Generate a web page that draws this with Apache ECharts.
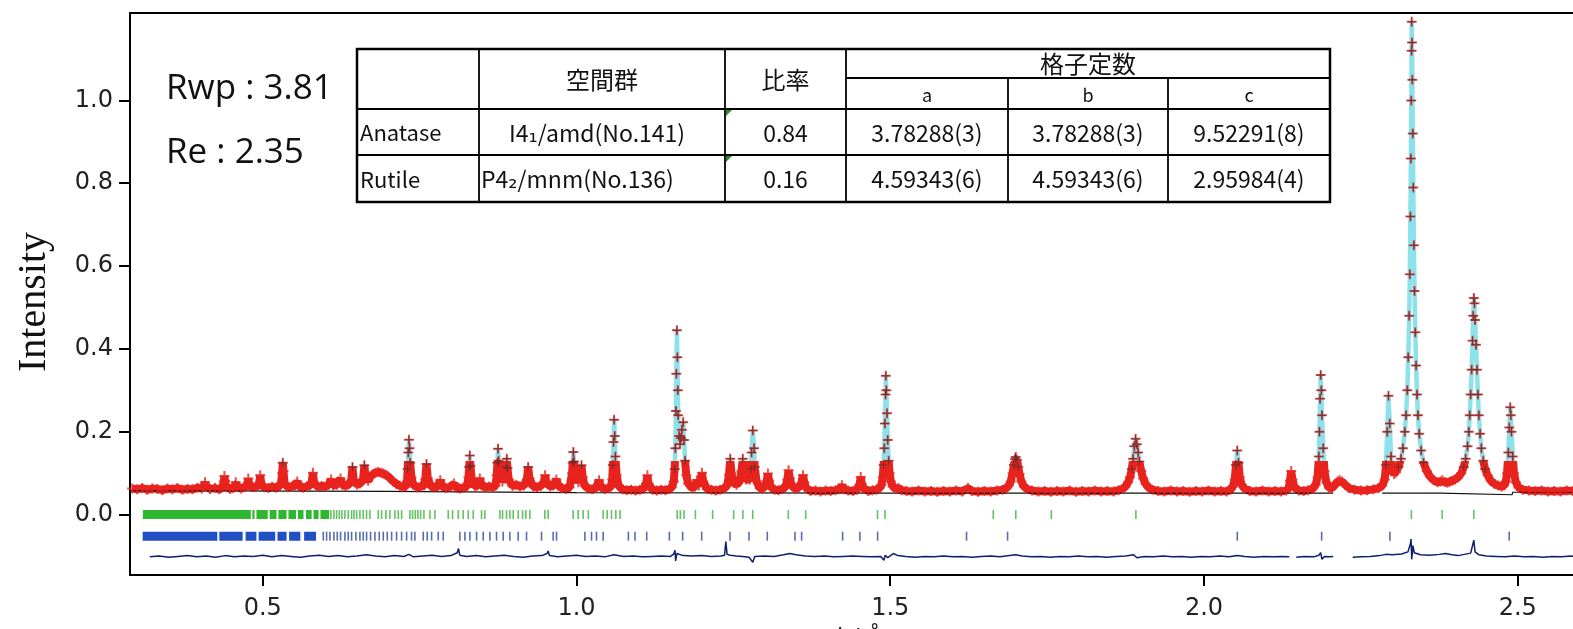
<!DOCTYPE html>
<html><head><meta charset="utf-8">
<script src="https://cdn.jsdelivr.net/npm/echarts/dist/echarts.min.js"></script>
<style>html,body{margin:0;padding:0;background:#fff}#c{width:1573px;height:629px}</style>
</head><body><div id="c"></div>
<script>
// ---------------- DATA ----------------
var xTicks = [0.5, 1.0, 1.5, 2.0, 2.5];
var yTicks = [0.0, 0.2, 0.4, 0.6, 0.8, 1.0];
var rFactors = ['Rwp : 3.81', 'Re : 2.35'];
var yTitle = 'Intensity';
var xTitle = 'd / Å';

var tableHead = ['空間群', '比率', '格子定数'];
var latticeHead = ['a', 'b', 'c'];
var phases = ['Anatase', 'Rutile'];
var spaceGroups = ['I4₁/amd(No.141)', 'P4₂/mnm(No.136)'];
var ratios = ['0.84', '0.16'];
var aVals = ['3.78288(3)', '4.59343(6)'];
var bVals = ['3.78288(3)', '4.59343(6)'];
var cVals = ['9.52291(8)', '2.95984(4)'];

// observed / calculated profile [d, intensity]
var profile = [
[0.292,0.063],[0.300,0.061],[0.308,0.064],[0.316,0.060],[0.324,0.063],[0.332,0.062],[0.340,0.059],[0.348,0.063],[0.356,0.061],[0.364,0.064],[0.372,0.060],[0.380,0.062],[0.388,0.061],[0.396,0.065],[0.403,0.063],
[0.406,0.068],[0.408,0.078],[0.410,0.067],[0.416,0.062],[0.424,0.064],[0.431,0.061],
[0.436,0.066],[0.438,0.080],[0.439,0.093],[0.440,0.081],[0.442,0.066],[0.448,0.062],[0.453,0.064],
[0.456,0.070],[0.457,0.078],[0.459,0.066],[0.465,0.063],[0.470,0.066],
[0.475,0.070],[0.477,0.087],[0.479,0.069],[0.484,0.066],[0.489,0.068],
[0.494,0.072],[0.496,0.095],[0.498,0.072],[0.503,0.066],[0.509,0.064],[0.515,0.067],[0.521,0.065],[0.526,0.068],
[0.529,0.075],[0.531,0.100],[0.532,0.125],[0.533,0.105],[0.535,0.075],[0.540,0.066],[0.546,0.068],[0.551,0.070],
[0.555,0.080],[0.558,0.068],[0.564,0.065],[0.570,0.068],[0.575,0.070],
[0.578,0.078],[0.580,0.101],[0.582,0.076],[0.588,0.067],[0.594,0.069],[0.600,0.068],[0.605,0.072],
[0.609,0.085],[0.612,0.070],[0.618,0.072],[0.624,0.087],[0.627,0.072],[0.632,0.069],[0.637,0.073],
[0.641,0.082],[0.643,0.115],[0.645,0.083],[0.650,0.072],[0.655,0.075],
[0.660,0.085],[0.662,0.119],[0.664,0.088],
[0.668,0.082],[0.672,0.092],[0.676,0.098],[0.680,0.101],[0.684,0.103],[0.688,0.101],[0.692,0.099],[0.696,0.096],[0.700,0.092],[0.704,0.086],[0.708,0.080],[0.713,0.074],[0.718,0.070],[0.723,0.067],[0.728,0.068],
[0.730,0.080],[0.731,0.110],[0.732,0.150],[0.733,0.181],[0.734,0.160],[0.735,0.125],[0.737,0.090],[0.740,0.072],
[0.746,0.066],[0.752,0.068],[0.757,0.070],[0.759,0.085],[0.761,0.122],[0.763,0.088],
[0.768,0.068],[0.774,0.066],[0.779,0.068],[0.783,0.083],[0.786,0.068],[0.792,0.064],[0.798,0.066],
[0.805,0.075],[0.808,0.065],[0.814,0.063],[0.820,0.065],[0.825,0.068],
[0.828,0.090],[0.829,0.115],[0.830,0.143],[0.831,0.118],[0.833,0.085],[0.838,0.068],[0.842,0.070],
[0.846,0.087],[0.849,0.070],[0.855,0.066],[0.861,0.068],[0.867,0.066],[0.871,0.070],
[0.873,0.095],[0.874,0.125],[0.875,0.159],[0.876,0.130],[0.878,0.100],
[0.882,0.080],[0.886,0.090],[0.888,0.115],[0.889,0.135],[0.890,0.112],[0.892,0.085],
[0.898,0.069],[0.904,0.072],[0.910,0.068],[0.916,0.070],
[0.921,0.085],[0.923,0.115],[0.925,0.088],[0.931,0.068],[0.937,0.066],[0.943,0.069],
[0.948,0.078],[0.950,0.095],[0.952,0.078],[0.958,0.068],[0.963,0.070],
[0.968,0.085],[0.971,0.070],[0.977,0.064],[0.983,0.062],[0.989,0.066],
[0.993,0.100],[0.994,0.125],[0.995,0.151],[0.996,0.128],[0.998,0.095],
[1.003,0.078],[1.006,0.092],[1.008,0.119],[1.010,0.090],[1.013,0.070],
[1.019,0.063],[1.025,0.061],[1.031,0.064],[1.036,0.083],[1.039,0.066],[1.045,0.062],[1.051,0.064],[1.055,0.068],
[1.057,0.085],[1.058,0.120],[1.059,0.175],[1.060,0.229],[1.061,0.190],[1.062,0.140],[1.064,0.095],[1.067,0.070],
[1.073,0.061],[1.080,0.059],[1.087,0.060],[1.094,0.058],[1.101,0.060],[1.107,0.062],
[1.111,0.075],[1.113,0.095],[1.115,0.074],
[1.121,0.060],[1.128,0.058],[1.135,0.060],[1.142,0.059],[1.148,0.062],[1.152,0.066],
[1.155,0.080],[1.1565,0.110],[1.1575,0.160],[1.1585,0.250],[1.1592,0.340],[1.160,0.445],[1.1608,0.380],[1.1615,0.300],[1.162,0.240],[1.1635,0.190],[1.165,0.170],[1.1665,0.185],[1.168,0.205],[1.170,0.223],[1.1715,0.180],[1.173,0.130],[1.175,0.095],[1.178,0.075],
[1.184,0.064],[1.189,0.068],[1.192,0.083],[1.195,0.070],[1.198,0.080],[1.200,0.101],[1.202,0.080],
[1.208,0.062],[1.215,0.060],[1.222,0.058],[1.229,0.060],[1.235,0.063],[1.240,0.070],
[1.243,0.095],[1.245,0.135],[1.247,0.100],[1.250,0.078],[1.255,0.072],[1.260,0.080],
[1.263,0.105],[1.265,0.135],[1.267,0.108],[1.270,0.085],
[1.276,0.085],[1.278,0.110],[1.279,0.150],[1.281,0.203],[1.283,0.160],[1.284,0.115],[1.287,0.080],
[1.292,0.064],[1.297,0.063],[1.301,0.070],[1.303,0.080],[1.305,0.099],[1.307,0.082],[1.310,0.066],
[1.316,0.060],[1.322,0.059],[1.328,0.062],[1.333,0.067],
[1.336,0.085],[1.338,0.107],[1.340,0.088],[1.343,0.070],[1.348,0.063],[1.354,0.065],
[1.358,0.075],[1.361,0.095],[1.363,0.078],[1.366,0.064],
[1.373,0.057],[1.381,0.058],[1.389,0.056],[1.397,0.058],[1.405,0.057],[1.413,0.059],[1.419,0.061],
[1.423,0.071],[1.426,0.061],[1.433,0.058],[1.441,0.057],[1.447,0.060],
[1.451,0.072],[1.453,0.091],[1.455,0.073],[1.458,0.062],
[1.465,0.057],[1.472,0.059],[1.478,0.060],[1.483,0.064],
[1.486,0.072],[1.488,0.090],[1.4895,0.120],[1.4905,0.160],[1.4915,0.220],[1.4925,0.290],[1.493,0.335],[1.4938,0.300],[1.4948,0.245],[1.496,0.180],[1.4975,0.130],[1.499,0.100],[1.501,0.080],[1.504,0.068],
[1.509,0.062],[1.513,0.064],[1.518,0.059],[1.526,0.057],[1.535,0.056],[1.545,0.058],[1.555,0.056],[1.565,0.057],[1.575,0.055],[1.585,0.057],[1.595,0.056],[1.605,0.058],[1.615,0.056],
[1.624,0.064],[1.630,0.057],[1.640,0.055],[1.650,0.057],[1.660,0.056],[1.670,0.058],[1.679,0.060],[1.685,0.064],
[1.689,0.070],[1.692,0.080],[1.695,0.100],[1.697,0.120],[1.699,0.134],[1.700,0.139],[1.702,0.132],[1.704,0.115],[1.706,0.098],[1.709,0.080],[1.713,0.068],[1.718,0.062],
[1.726,0.058],[1.736,0.056],[1.746,0.057],[1.756,0.055],[1.766,0.057],[1.776,0.056],[1.786,0.058],[1.796,0.055],[1.806,0.057],[1.816,0.056],[1.826,0.058],[1.836,0.056],[1.846,0.057],[1.856,0.056],[1.864,0.059],[1.870,0.062],
[1.875,0.068],[1.879,0.078],[1.882,0.090],[1.885,0.110],[1.887,0.135],[1.889,0.165],[1.891,0.183],[1.893,0.170],[1.895,0.150],[1.897,0.128],[1.900,0.105],[1.903,0.088],[1.907,0.074],[1.912,0.065],[1.918,0.060],
[1.927,0.057],[1.937,0.056],[1.947,0.058],[1.957,0.056],[1.967,0.057],[1.977,0.055],[1.987,0.057],[1.997,0.056],[2.007,0.058],[2.017,0.056],[2.027,0.057],[2.036,0.056],[2.042,0.060],
[2.046,0.068],[2.049,0.085],[2.051,0.120],[2.053,0.155],[2.055,0.125],[2.057,0.090],[2.060,0.072],[2.065,0.062],
[2.073,0.057],[2.083,0.056],[2.093,0.058],[2.103,0.056],[2.113,0.057],[2.123,0.056],[2.131,0.058],[2.135,0.064],
[2.137,0.082],[2.139,0.105],[2.141,0.085],[2.144,0.066],
[2.151,0.058],[2.159,0.057],[2.166,0.059],[2.173,0.062],[2.178,0.072],
[2.181,0.090],[2.183,0.140],[2.184,0.200],[2.185,0.280],[2.186,0.337],[2.187,0.300],[2.188,0.240],[2.190,0.160],[2.192,0.105],[2.195,0.078],[2.199,0.065],
[2.204,0.064],[2.209,0.072],[2.213,0.080],[2.216,0.083],[2.220,0.080],[2.225,0.072],[2.231,0.064],
[2.240,0.060],[2.250,0.058],[2.260,0.059],[2.270,0.061],[2.278,0.064],[2.284,0.070],
[2.288,0.085],[2.290,0.120],[2.292,0.200],[2.294,0.287],[2.296,0.220],[2.298,0.140],[2.300,0.105],[2.303,0.098],[2.306,0.102],
[2.310,0.115],[2.314,0.135],[2.317,0.160],[2.320,0.200],[2.322,0.240],[2.324,0.300],[2.3255,0.380],[2.327,0.480],[2.328,0.580],[2.329,0.720],[2.3297,0.860],[2.3303,1.000],[2.3308,1.120],[2.331,1.190],[2.3315,1.140],[2.332,1.050],[2.3327,0.920],[2.3335,0.790],[2.3345,0.650],[2.3355,0.540],[2.3368,0.440],[2.338,0.360],[2.3395,0.290],[2.341,0.240],[2.343,0.195],[2.346,0.155],[2.350,0.125],[2.355,0.105],[2.360,0.092],[2.366,0.083],[2.372,0.078],
[2.377,0.080],[2.380,0.083],[2.384,0.079],[2.388,0.077],[2.392,0.080],[2.396,0.082],[2.400,0.085],
[2.405,0.090],[2.410,0.100],[2.414,0.115],[2.417,0.135],[2.420,0.165],[2.422,0.200],[2.4235,0.240],[2.425,0.290],[2.4265,0.350],[2.428,0.420],[2.429,0.480],[2.430,0.523],[2.431,0.510],[2.432,0.470],[2.4335,0.410],[2.435,0.350],[2.4365,0.290],[2.438,0.240],[2.440,0.195],[2.442,0.160],[2.445,0.130],[2.448,0.110],[2.452,0.095],[2.457,0.082],[2.463,0.074],[2.469,0.070],[2.474,0.068],[2.478,0.070],
[2.481,0.080],[2.483,0.100],[2.485,0.150],[2.4865,0.210],[2.488,0.259],[2.489,0.240],[2.490,0.200],[2.492,0.140],[2.494,0.100],[2.497,0.078],[2.501,0.066],
[2.508,0.060],[2.518,0.058],[2.528,0.057],[2.538,0.058],[2.548,0.056],[2.558,0.057],[2.568,0.056],[2.578,0.058],[2.588,0.057],[2.598,0.056]
];

// background [d, intensity]
var background = [[0.290,0.058],[0.700,0.056],[1.000,0.053],[1.500,0.052],[2.206,0.052],[2.207,null],[2.284,0.052],[2.377,0.052],[2.378,0.048],[2.491,0.048],[2.492,0.054],[2.600,0.054]];

// difference curve (offset) [d, value]
var difference = [
[0.320,-0.102],[0.335,-0.100],[0.350,-0.103],[0.365,-0.101],[0.380,-0.099],[0.395,-0.102],[0.410,-0.100],[0.425,-0.103],[0.440,-0.099],[0.455,-0.102],[0.470,-0.100],[0.485,-0.101],[0.500,-0.098],[0.515,-0.102],[0.530,-0.099],[0.545,-0.101],[0.560,-0.103],[0.575,-0.100],[0.590,-0.098],[0.605,-0.101],[0.620,-0.099],[0.635,-0.102],[0.650,-0.100],[0.665,-0.097],[0.680,-0.100],[0.695,-0.102],[0.710,-0.099],[0.725,-0.101],[0.733,-0.096],[0.740,-0.102],[0.755,-0.100],[0.770,-0.098],[0.785,-0.101],[0.800,-0.099],[0.810,-0.092],[0.812,-0.082],[0.814,-0.098],[0.825,-0.101],[0.840,-0.099],[0.855,-0.102],[0.870,-0.100],[0.885,-0.098],[0.900,-0.101],[0.915,-0.103],[0.930,-0.100],[0.945,-0.099],[0.953,-0.094],[0.955,-0.088],[0.957,-0.099],[0.970,-0.102],[0.985,-0.100],[1.000,-0.098],[1.015,-0.101],[1.030,-0.100],[1.045,-0.102],[1.060,-0.097],[1.075,-0.101],[1.090,-0.100],[1.105,-0.102],[1.120,-0.101],[1.135,-0.100],[1.150,-0.101],[1.155,-0.095],[1.157,-0.086],[1.158,-0.112],[1.160,-0.094],[1.163,-0.097],[1.170,-0.099],[1.185,-0.100],[1.200,-0.099],[1.215,-0.101],[1.230,-0.100],[1.236,-0.098],[1.238,-0.065],[1.240,-0.096],[1.245,-0.098],[1.255,-0.100],[1.265,-0.101],[1.275,-0.103],[1.281,-0.115],[1.284,-0.101],[1.300,-0.100],[1.315,-0.101],[1.330,-0.097],[1.340,-0.094],[1.350,-0.097],[1.365,-0.100],[1.380,-0.101],[1.395,-0.100],[1.410,-0.102],[1.425,-0.101],[1.440,-0.100],[1.455,-0.101],[1.470,-0.102],[1.485,-0.101],[1.490,-0.110],[1.492,-0.098],[1.496,-0.104],[1.505,-0.094],[1.512,-0.099],[1.525,-0.101],[1.540,-0.103],[1.555,-0.101],[1.570,-0.102],[1.585,-0.100],[1.600,-0.102],[1.615,-0.101],[1.630,-0.103],[1.645,-0.101],[1.660,-0.100],[1.675,-0.102],[1.690,-0.099],[1.700,-0.097],[1.710,-0.100],[1.725,-0.102],[1.740,-0.101],[1.755,-0.103],[1.770,-0.101],[1.785,-0.102],[1.800,-0.100],[1.815,-0.102],[1.830,-0.101],[1.845,-0.103],[1.860,-0.101],[1.875,-0.100],[1.888,-0.097],[1.893,-0.104],[1.905,-0.101],[1.920,-0.102],[1.935,-0.100],[1.950,-0.102],[1.965,-0.101],[1.980,-0.103],[1.995,-0.101],[2.010,-0.102],[2.025,-0.100],[2.040,-0.102],[2.053,-0.099],[2.065,-0.101],[2.080,-0.103],[2.095,-0.101],[2.110,-0.102],[2.125,-0.101],[2.136,-0.102],[2.137,null],[2.147,-0.103],[2.160,-0.101],[2.175,-0.102],[2.183,-0.098],[2.186,-0.092],[2.188,-0.108],[2.192,-0.101],[2.200,-0.102],[2.206,-0.101],[2.207,null],[2.237,-0.103],[2.250,-0.102],[2.265,-0.101],[2.280,-0.099],[2.290,-0.096],[2.300,-0.097],[2.315,-0.095],[2.325,-0.090],[2.329,-0.070],[2.330,-0.059],[2.331,-0.108],[2.333,-0.075],[2.335,-0.092],[2.345,-0.097],[2.360,-0.098],[2.375,-0.096],[2.385,-0.094],[2.395,-0.097],[2.405,-0.099],[2.415,-0.096],[2.425,-0.093],[2.430,-0.062],[2.432,-0.090],[2.438,-0.097],[2.450,-0.100],[2.465,-0.101],[2.480,-0.102],[2.495,-0.100],[2.510,-0.102],[2.525,-0.101],[2.540,-0.103],[2.555,-0.101],[2.570,-0.102],[2.585,-0.100],[2.600,-0.102]
];

// reflection positions (d)
var anataseBands = [[0.309,0.481],[0.4835,0.487],[0.490,0.508],[0.511,0.522],[0.525,0.538],[0.541,0.553],[0.556,0.565],[0.569,0.578],[0.581,0.589],[0.592,0.606]];
var anataseTicks = [0.6087,0.6135,0.6177,0.6220,0.6262,0.6310,0.6363,0.6416,0.6454,0.6496,0.6549,0.6602,0.6655,0.6708,0.6841,0.6894,0.6963,0.7027,0.7107,0.7160,0.7213,0.7346,0.7388,0.7431,0.7473,0.7516,0.7569,0.7664,0.7744,0.7956,0.8025,0.8116,0.8195,0.8275,0.8355,0.8487,0.8540,0.8780,0.8822,0.8886,0.8939,0.8992,0.9072,0.9141,0.9194,0.9257,0.9496,0.9549,0.9947,1.0027,1.0107,1.0189,1.0425,1.0489,1.0558,1.0627,1.0694,1.1605,1.1655,1.1714,1.1895,1.2170,1.2505,1.2652,1.2808,1.3376,1.3653,1.4797,1.4916,1.6642,1.7001,1.7567,1.8915,2.3305,2.3795,2.4300];
var rutileBands = [[0.3087,0.4277],[0.4308,0.4680],[0.4727,0.4900],[0.4935,0.5200],[0.5235,0.5380],[0.5420,0.5600],[0.5660,0.5850]];
var rutileTicks = [0.5965,0.6018,0.6071,0.6135,0.6188,0.6241,0.6310,0.6363,0.6416,0.6485,0.6549,0.6602,0.6655,0.6719,0.6788,0.6857,0.6921,0.6985,0.7054,0.7133,0.7213,0.7293,0.7372,0.7425,0.7558,0.7622,0.7691,0.7797,0.7877,0.8142,0.8222,0.8302,0.8408,0.8514,0.8620,0.8726,0.8832,0.8939,0.9071,0.9204,0.9443,0.9629,0.9682,1.0134,1.0240,1.0319,1.0425,1.0827,1.0933,1.1119,1.1480,1.1692,1.1995,1.2446,1.2749,1.3041,1.3482,1.3588,1.4241,1.4517,1.4799,1.6216,1.6870,2.0531,2.1875,2.2963,2.4864];

// ---------------- CHART ----------------
var ROW_ANA = 0.0, ROW_RUT = -0.052;
var LINE_CUT = 0.13;   // above this level the calc (cyan) curve shows instead of the red band
var DARK_CUT = 0.11;   // above this level the markers get their dark centre
var Y_MIN = -0.1458, Y_MAX = 1.211;
function bandLine(bands, row) {
  var out = [];
  bands.forEach(function (b) { out.push([b[0], row]); out.push([b[1], row]); out.push([b[1], null]); });
  return out;
}
function tickPts(ticks, row) { return ticks.map(function (t) { return [t, row]; }); }
var peakPts = profile.filter(function (p) { return p[1] >= DARK_CUT; });

var PLUS = 'path://M4,0H6V4H10V6H6V10H4V6H0V4H4Z';
var PLUS_THIN = 'path://M4.4,0H5.6V4.4H10V5.6H5.6V10H4.4V5.6H0V4.4H4.4Z';

var chart = echarts.init(document.getElementById('c'), null, { renderer: 'canvas' });
var T = 49, R1 = 109, R2 = 155, B = 202, L = 357, RR = 1330;
var cA = 479, cB = 725, cC = 846, cD = 1008, cE = 1168, HM = 78;
var cjk = '"Noto Sans CJK JP", "DejaVu Sans", sans-serif';
function txt(t, x, y, size, align, fam) {
  return { type: 'text', z: 20, style: { text: t, x: x, y: y, fontSize: size, fontFamily: fam || cjk,
           fill: '#111', align: align || 'center', verticalAlign: 'middle',
           textAlign: align || 'center', textVerticalAlign: 'middle' } };
}
function ln(x1, y1, x2, y2, w) {
  return { type: 'line', z: 20, shape: { x1: x1, y1: y1, x2: x2, y2: y2 }, style: { stroke: '#000', lineWidth: w || 1.8 } };
}
var g = [];
g.push({ type: 'rect', z: 19, shape: { x: L, y: T, width: RR - L, height: B - T }, style: { fill: '#fff', stroke: '#000', lineWidth: 2.5 } });
g.push(ln(cA, T, cA, B)); g.push(ln(cB, T, cB, B)); g.push(ln(cC, T, cC, B));
g.push(ln(cD, HM, cD, B)); g.push(ln(cE, HM, cE, B));
g.push(ln(cC, HM, RR, HM)); g.push(ln(L, R1, RR, R1)); g.push(ln(L, R2, RR, R2));
g.push(txt(tableHead[0], (cA + cB) / 2, 80, 24));
g.push(txt(tableHead[1], (cB + cC) / 2, 80, 24));
g.push(txt(tableHead[2], (cC + RR) / 2, 64, 24));
g.push(txt(latticeHead[0], (cC + cD) / 2, 95, 18));
g.push(txt(latticeHead[1], (cD + cE) / 2, 95, 18));
g.push(txt(latticeHead[2], (cE + RR) / 2, 95, 18));
var rowY = [(R1 + R2) / 2, (R2 + B) / 2];
for (var i = 0; i < 2; i++) {
  g.push(txt(phases[i], L + 3, rowY[i] + 1, 22, 'left'));
  if (i === 0) g.push(txt(spaceGroups[i], 597, rowY[i] + 1, 23));
  else g.push(txt(spaceGroups[i], cA + 2, rowY[i] + 1, 23, 'left'));
  g.push(txt(ratios[i], (cB + cC) / 2, rowY[i] + 1, 23));
  g.push(txt(aVals[i], (cC + cD) / 2, rowY[i] + 1, 23));
  g.push(txt(bVals[i], (cD + cE) / 2, rowY[i] + 1, 23));
  g.push(txt(cVals[i], (cE + RR) / 2, rowY[i] + 1, 23));
}
[R1, R2].forEach(function (yy) {
  g.push({ type: 'polygon', z: 21, shape: { points: [[cB + 1, yy + 1], [cB + 7, yy + 1], [cB + 1, yy + 7]] }, style: { fill: '#2e8b2e' } });
});
g.push({ type: 'text', z: 20, style: { text: rFactors[0], x: 166, y: 89, fontSize: 35, fontFamily: '"Open Sans", sans-serif', fill: '#111', align: 'left', verticalAlign: 'middle', textAlign: 'left', textVerticalAlign: 'middle' } });
g.push({ type: 'text', z: 20, style: { text: rFactors[1], x: 166, y: 153, fontSize: 35, fontFamily: '"Open Sans", sans-serif', fill: '#111', align: 'left', verticalAlign: 'middle', textAlign: 'left', textVerticalAlign: 'middle' } });
g.push({ type: 'text', z: 20, x: 34, y: 302, rotation: Math.PI / 2,
         style: { text: yTitle, x: 0, y: 0, fontSize: 40, fontFamily: '"Liberation Serif", serif', fill: '#111',
                  align: 'center', verticalAlign: 'middle', textAlign: 'center', textVerticalAlign: 'middle' } });

// vertical gradient (global pixel coords) that switches colour at the LINE_CUT level
var H = 629, gridTop = 13, gridBottom = 575;
var cutPx = gridTop + (Y_MAX - LINE_CUT) / (Y_MAX - Y_MIN) * (gridBottom - gridTop);
var f = cutPx / H;
function splitGrad(topColor, bottomColor) {
  return { type: 'linear', x: 0, y: 0, x2: 0, y2: H, global: true,
           colorStops: [{ offset: 0, color: topColor }, { offset: f, color: topColor },
                        { offset: f, color: bottomColor }, { offset: 1, color: bottomColor }] };
}

var option = {
  animation: false,
  backgroundColor: '#fff',
  grid: { left: 130, top: gridTop, right: -7.5, bottom: H - gridBottom, show: true, borderColor: '#000', borderWidth: 2,
          containLabel: false, outerBoundsMode: 'none' },
  xAxis: {
    type: 'value', min: 0.2885, max: 2.6,
    name: xTitle, nameLocation: 'middle', nameGap: 47,
    nameTextStyle: { fontSize: 26, fontFamily: '"Open Sans", sans-serif', color: '#222', verticalAlign: 'top' },
    axisLine: { show: true, onZero: false, lineStyle: { color: '#000', width: 2 } },
    axisTick: { show: true, length: 11, lineStyle: { color: '#000', width: 2 }, customValues: xTicks },
    axisLabel: { customValues: xTicks, margin: 22, fontSize: 24, fontFamily: '"DejaVu Sans", sans-serif', color: '#222',
                 formatter: function (v) { return v.toFixed(1); } },
    splitLine: { show: false }
  },
  yAxis: {
    type: 'value', min: Y_MIN, max: Y_MAX,
    axisLine: { show: true, onZero: false, lineStyle: { color: '#000', width: 2 } },
    axisTick: { show: true, length: 11, lineStyle: { color: '#000', width: 2 }, customValues: yTicks },
    axisLabel: { customValues: yTicks, margin: 17, fontSize: 24, fontFamily: '"DejaVu Sans", sans-serif', color: '#222',
                 formatter: function (v) { return v.toFixed(1); } },
    splitLine: { show: false }
  },
  series: [
    { type: 'line', data: profile, showSymbol: false, lineStyle: { width: 8, color: splitGrad('rgba(232,35,30,0)', '#e8231e') }, z: 2, silent: true },
    { type: 'line', data: profile, showSymbol: false, lineStyle: { width: 4.5, color: splitGrad('#8be2ea', 'rgba(139,226,234,0)') }, z: 3, silent: true },
    { type: 'line', data: background, showSymbol: false, connectNulls: false, lineStyle: { width: 1.2, color: '#111' }, itemStyle: { color: '#111' }, z: 4, silent: true },
    { type: 'scatter', data: profile, symbol: PLUS, symbolSize: 10, itemStyle: { color: '#e8231e' }, z: 5, silent: true },
    { type: 'scatter', data: peakPts, symbol: PLUS_THIN, symbolSize: 8, itemStyle: { color: '#4a3030' }, z: 6, silent: true },
    { type: 'line', data: difference, showSymbol: false, connectNulls: false, lineStyle: { width: 1.5, color: '#0d1f6e' }, itemStyle: { color: '#0d1f6e' }, z: 4, silent: true },
    { type: 'line', data: bandLine(anataseBands, ROW_ANA), showSymbol: false, connectNulls: false, lineStyle: { width: 9, color: '#2fb82f', cap: 'butt' }, itemStyle: { color: '#2fb82f' }, z: 4, silent: true },
    { type: 'scatter', data: tickPts(anataseTicks, ROW_ANA), symbol: 'rect', symbolSize: [1.6, 9], itemStyle: { color: '#3cb43c' }, z: 4, silent: true },
    { type: 'line', data: bandLine(rutileBands, ROW_RUT), showSymbol: false, connectNulls: false, lineStyle: { width: 9, color: '#2150c4', cap: 'butt' }, itemStyle: { color: '#2150c4' }, z: 4, silent: true },
    { type: 'scatter', data: tickPts(rutileTicks, ROW_RUT), symbol: 'rect', symbolSize: [1.6, 9], itemStyle: { color: '#2a4a9a' }, z: 4, silent: true }
  ],
  graphic: { elements: g }
};
chart.setOption(option);
</script></body></html>
